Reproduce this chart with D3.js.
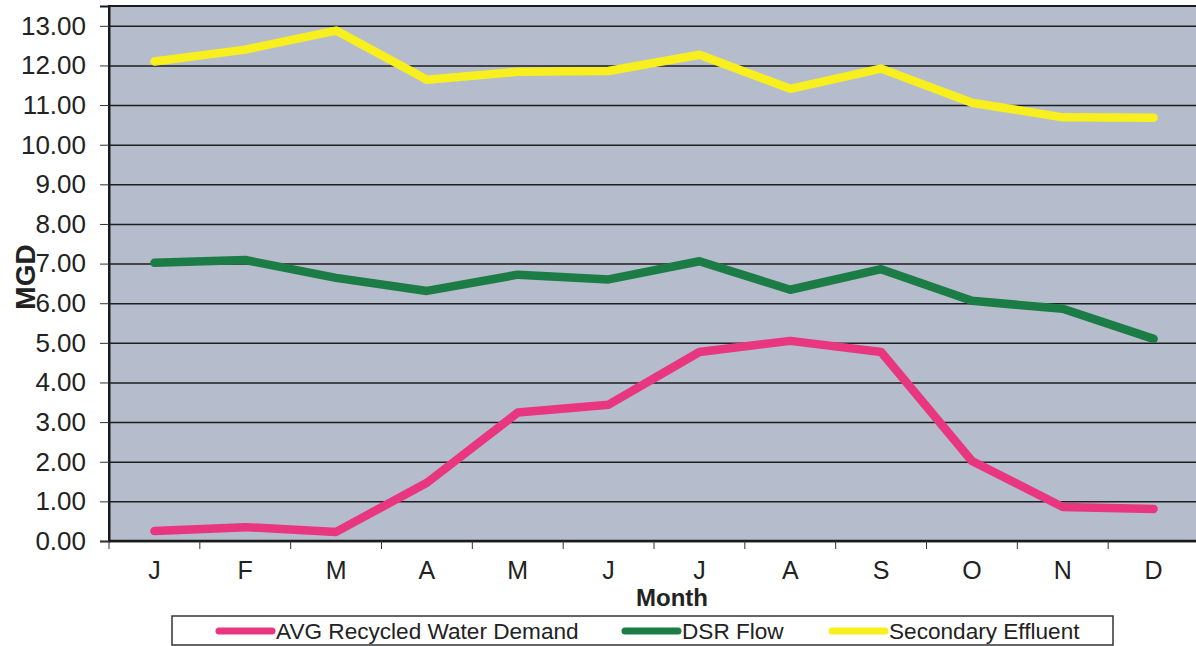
<!DOCTYPE html>
<html>
<head>
<meta charset="utf-8">
<script src="https://cdn.jsdelivr.net/npm/d3@7"></script>
<style>
  body { margin: 0; background: #fff; }
  svg { display: block; font-family: "Liberation Sans", Arial, sans-serif; }
</style>
</head>
<body>
<div id="chart"></div>
<script>
// chart data
const months = ['J', 'F', 'M', 'A', 'M', 'J', 'J', 'A', 'S', 'O', 'N', 'D'];
const recycledDemand = [0.25, 0.35, 0.23, 1.47, 3.24, 3.44, 4.77, 5.05, 4.77, 2.02, 0.86, 0.81];
const dsrFlow = [7.02, 7.09, 6.64, 6.31, 6.72, 6.60, 7.06, 6.34, 6.86, 6.06, 5.86, 5.10];
const secondaryEffluent = [12.10, 12.40, 12.88, 11.64, 11.84, 11.86, 12.27, 11.41, 11.92, 11.06, 10.69, 10.68];
const yTicks = [0, 1, 2, 3, 4, 5, 6, 7, 8, 9, 10, 11, 12, 13];

const seriesList = [
    { name: 'AVG Recycled Water Demand', values: recycledDemand, color: '#e8367f' },
    { name: 'DSR Flow', values: dsrFlow, color: '#1b7d45' },
    { name: 'Secondary Effluent', values: secondaryEffluent, color: '#f8ef1e' }
];

const W = 1196, H = 646;
const margin = { left: 109, top: 6, right: -3, bottom: 105 };
const width = W - margin.left - margin.right;
const height = H - margin.top - margin.bottom;

const svg = d3.select('#chart')
    .append('svg')
    .attr('width', W)
    .attr('height', H);

const g = svg.append('g')
    .attr('transform', `translate(${margin.left}, ${margin.top})`);

const xScale = d3.scaleBand()
    .domain(d3.range(months.length))
    .range([0, width]);

const yScale = d3.scaleLinear()
    .domain([0, 13.5])
    .range([height, 0]);

// plot background
g.append('rect')
    .attr('width', width)
    .attr('height', height)
    .attr('fill', '#b5bccc')
    .attr('stroke', '#1a1a1a')
    .attr('stroke-width', 2);

// grid lines
g.append('g')
    .attr('class', 'grid')
    .call(d3.axisLeft(yScale)
        .tickValues(yTicks)
        .tickSize(-width)
        .tickFormat('')
    )
    .call(sel => sel.select('.domain').remove())
    .call(sel => sel.selectAll('line').attr('stroke', '#1e1e1e').attr('stroke-width', 1.5));

// y axis
g.append('g')
    .attr('class', 'axis')
    .call(d3.axisLeft(yScale)
        .tickValues(yTicks)
        .tickSize(9)
        .tickPadding(14)
        .tickFormat(d3.format('.2f'))
    )
    .call(sel => sel.select('.domain').attr('stroke', '#1a1a1a').attr('stroke-width', 2))
    .call(sel => sel.selectAll('line').attr('stroke', '#333'))
    .call(sel => sel.selectAll('text')
        .attr('fill', '#222')
        .style('font-size', '26px')
        .style('font-family', '"Liberation Sans", Arial, sans-serif'));

// x axis: ticks at category boundaries, labels centred
const xAxisG = g.append('g')
    .attr('class', 'axis')
    .attr('transform', `translate(0, ${height})`);

xAxisG.append('line')
    .attr('x1', 0).attr('x2', width)
    .attr('stroke', '#1a1a1a')
    .attr('stroke-width', 2.5);

xAxisG.selectAll('.xtick')
    .data(d3.range(months.length + 1))
    .enter()
    .append('line')
    .attr('x1', d => d < months.length ? xScale(d) : width)
    .attr('x2', d => d < months.length ? xScale(d) : width)
    .attr('y1', 0)
    .attr('y2', 8)
    .attr('stroke', '#333');

xAxisG.selectAll('.xlabel')
    .data(months)
    .enter()
    .append('text')
    .attr('x', (d, i) => xScale(i) + xScale.bandwidth() / 2)
    .attr('y', 38)
    .attr('text-anchor', 'middle')
    .attr('fill', '#222')
    .style('font-size', '25px')
    .text(d => d);

// axis titles
svg.append('text')
    .attr('x', 672)
    .attr('y', 606)
    .attr('text-anchor', 'middle')
    .attr('fill', '#222')
    .style('font-size', '24px')
    .style('font-weight', 'bold')
    .text('Month');

svg.append('text')
    .attr('transform', 'translate(35, 277) rotate(-90)')
    .attr('text-anchor', 'middle')
    .attr('fill', '#222')
    .style('font-size', '28px')
    .style('font-weight', 'bold')
    .text('MGD');

// series lines
const line = d3.line()
    .x((d, i) => xScale(i) + xScale.bandwidth() / 2)
    .y(d => yScale(d));

seriesList.forEach(s => {
    g.append('path')
        .datum(s.values)
        .attr('fill', 'none')
        .attr('stroke', s.color)
        .attr('stroke-width', 8.5)
        .attr('stroke-linejoin', 'round')
        .attr('stroke-linecap', 'round')
        .attr('d', line);
});

// legend
const legend = svg.append('g').attr('class', 'legend');
legend.append('rect')
    .attr('x', 172).attr('y', 616)
    .attr('width', 941).attr('height', 29)
    .attr('fill', '#fff')
    .attr('stroke', '#333')
    .attr('stroke-width', 1.5);

const legendX = [219, 625, 832];
seriesList.forEach((s, i) => {
    legend.append('line')
        .attr('x1', legendX[i]).attr('x2', legendX[i] + 53)
        .attr('y1', 631).attr('y2', 631)
        .attr('stroke', s.color)
        .attr('stroke-width', 7)
        .attr('stroke-linecap', 'round');
    legend.append('text')
        .attr('x', legendX[i] + 57)
        .attr('y', 639)
        .attr('fill', '#222')
        .style('font-size', '22.6px')
        .text(s.name);
});
</script>
</body>
</html>
